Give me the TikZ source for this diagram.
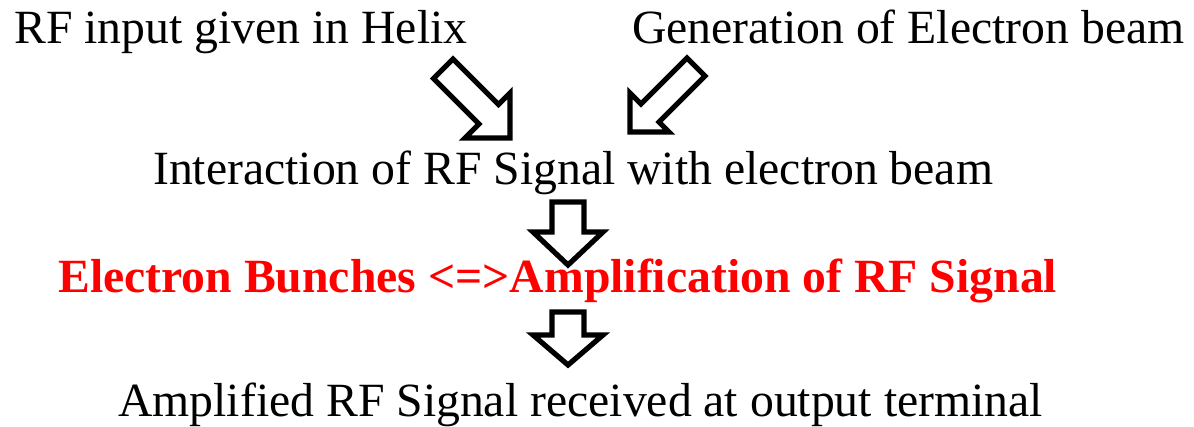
\documentclass[tikz,border=0pt]{standalone}
\usepackage{fontspec}
\setmainfont{Liberation Serif}
\begin{document}
\begin{tikzpicture}[x=1pt,y=-1pt,
  txt/.style={anchor=base west, inner sep=0pt, font=\fontsize{47.7}{50}\selectfont},
  redtxt/.style={txt, font=\fontsize{47.7}{50}\selectfont\bfseries, text=red},
  blockarrow/.style={draw=black, line width=5.2pt, fill=white, line join=miter}]
\useasboundingbox (0,0) rectangle (1194,427);
\node[txt] (rf) at (14,44) {RF input given in Helix};
\node[txt] (gen) at (632,44) {Generation of Electron beam};
\node[txt] (inter) at (153,185) {Interaction of RF Signal with electron beam};
\node[redtxt] (bunch) at (58,293) {Electron Bunches <=>Amplification of RF Signal};
\node[txt] (out) at (118,417) {Amplified RF Signal received at output terminal};
% block arrows
\draw[blockarrow] (453,59) -- (498.5,104.5) -- (510,93) -- (510,138) -- (465,138) -- (479,124) -- (433.5,78.5) -- cycle;
\draw[blockarrow] (705,76) -- (659,122) -- (669,132) -- (630,132) -- (630,93) -- (641,104) -- (687,58) -- cycle;
\draw[blockarrow] (552,202) -- (584,202) -- (584,232) -- (603,232) -- (568,265) -- (533,232) -- (552,232) -- cycle;
\draw[blockarrow] (552,312) -- (584,312) -- (584,335) -- (603,335) -- (568,365) -- (533,335) -- (552,335) -- cycle;
\end{tikzpicture}
\end{document}
